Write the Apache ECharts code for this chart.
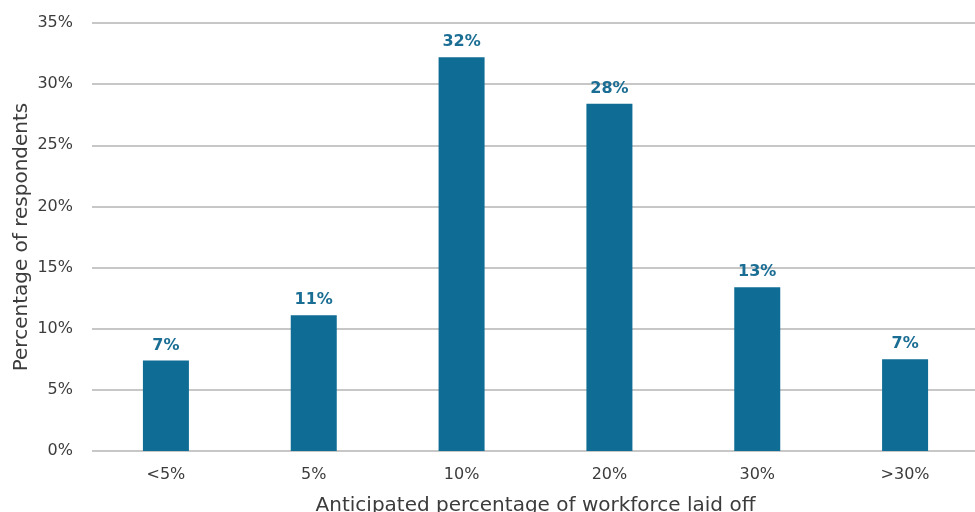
<!DOCTYPE html>
<html><head><meta charset="utf-8">
<script src="https://cdn.jsdelivr.net/npm/echarts@6/dist/echarts.min.js"></script>
<style>html,body{margin:0;padding:0;background:#fff}#c{width:975px;height:512px}</style>
</head><body><div id="c"></div>
<script>
var categories = ['<5%', '5%', '10%', '20%', '30%', '>30%'];
var values = [7.4, 11.1, 32.2, 28.4, 13.4, 7.5];
var valueLabels = ['7%', '11%', '32%', '28%', '13%', '7%'];
var yTicks = [0, 5, 10, 15, 20, 25, 30, 35];

var chart = echarts.init(document.getElementById('c'));
var FONT = 'DejaVu Sans';
chart.setOption({
  animation: false,
  backgroundColor: '#ffffff',
  grid: { left: 92, top: 23, width: 887, height: 428, outerBoundsMode: 'none', containLabel: false },
  xAxis: {
    type: 'category', data: categories,
    axisLine: { show: false }, axisTick: { show: false },
    axisLabel: { color: '#3c3c3c', fontSize: 16, fontFamily: FONT, margin: 16 },
    name: 'Anticipated percentage of workforce laid off',
    nameLocation: 'middle', nameGap: 45, nameMoveOverlap: false,
    nameTextStyle: { color: '#3c3c3c', fontSize: 20, fontFamily: FONT }
  },
  yAxis: {
    type: 'value', min: 0, max: 35, interval: 5,
    axisLine: { show: false }, axisTick: { show: false },
    splitLine: { lineStyle: { color: '#b4b4b4', width: 1.5 } },
    axisLabel: { color: '#3c3c3c', fontSize: 16, fontFamily: FONT, margin: 19,
      formatter: function (v) { return yTicks.indexOf(v) >= 0 ? v + '%' : ''; } },
    name: 'Percentage of respondents',
    nameLocation: 'middle', nameGap: 60, nameMoveOverlap: false,
    nameTextStyle: { color: '#3c3c3c', fontSize: 20, fontFamily: FONT }
  },
  series: [{
    type: 'bar', data: values, barWidth: 46,
    itemStyle: { color: '#0e6c95' },
    label: { show: true, position: 'top', distance: 7, color: '#1a6d93',
      fontSize: 16, fontWeight: 'bold', fontFamily: FONT,
      formatter: function (p) { return valueLabels[p.dataIndex]; } }
  }]
});
</script></body></html>
